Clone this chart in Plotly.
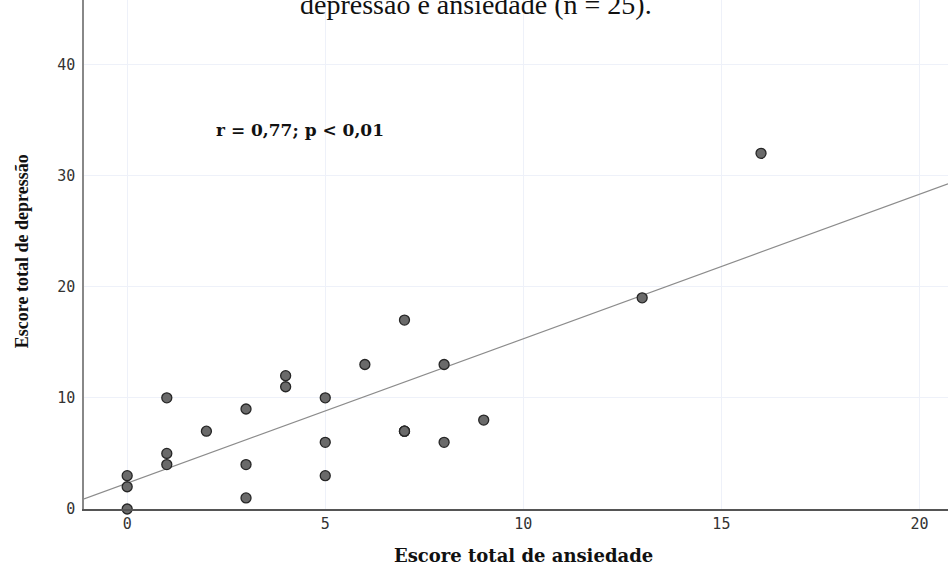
import plotly.graph_objects as go

# Data
ansiedade = [0, 0, 0, 1, 1, 1, 2, 3, 3, 3, 4, 4, 5, 5, 5, 6, 7, 7, 7, 7, 8, 8, 9, 13, 16]
depressao = [0, 2, 3, 4, 5, 10, 7, 1, 4, 9, 11, 12, 3, 6, 10, 13, 7, 7, 7, 17, 6, 13, 8, 19, 32]
fit_intercept = 2.32
fit_slope = 1.30
x_ticks = [0, 5, 10, 15, 20]
y_ticks = [0, 10, 20, 30, 40]
x_range = [-1.09, 20.72]
y_range = [0, 45.8]

fit_x = x_range
fit_y = [fit_intercept + fit_slope * v for v in fit_x]

fig = go.Figure()
fig.add_trace(go.Scatter(x=fit_x, y=fit_y, mode="lines",
                         line=dict(color="#8c8c8c", width=1.2),
                         hoverinfo="skip", showlegend=False, cliponaxis=True))
fig.add_trace(go.Scatter(x=ansiedade, y=depressao, mode="markers",
                         marker=dict(size=10, color="#6a6a6a",
                                     line=dict(color="#262626", width=1.3)),
                         showlegend=False, cliponaxis=False))

tickfont = dict(family="DejaVu Sans Mono", size=15, color="#333333")
fig.update_xaxes(range=x_range, tickvals=x_ticks, showgrid=True, gridcolor="#eef1f9",
                 gridwidth=1, zeroline=False, showline=True, linecolor="#555555",
                 linewidth=1.5, ticks="", tickfont=tickfont)
fig.update_yaxes(range=y_range, tickvals=y_ticks, showgrid=True, gridcolor="#eef1f9",
                 gridwidth=1, zeroline=False, showline=True, linecolor="#888888",
                 linewidth=1.5, ticks="", tickfont=tickfont, ticklabelstandoff=4)

fig.update_layout(
    width=948, height=566,
    margin=dict(l=84, r=0, t=0, b=57),
    plot_bgcolor="white", paper_bgcolor="white",
    annotations=[
        dict(text="depressão e ansiedade (n = 25).", xref="paper", yref="paper",
             x=0.454, y=1, xanchor="center", yanchor="bottom", yshift=-22,
             showarrow=False, font=dict(family="Liberation Serif", size=28, color="#111111")),
        dict(text="<b>r = 0,77; p < 0,01</b>", xref="x", yref="y", x=4.37, y=34.1,
             showarrow=False, font=dict(family="DejaVu Serif", size=17, color="#111111")),
        dict(text="<b>Escore total de ansiedade</b>", xref="x", yref="paper", x=10,
             y=0, yshift=-46, yanchor="middle", showarrow=False,
             font=dict(family="DejaVu Serif", size=18, color="#111111")),
        dict(text="<b>Escore total de depressão</b>", xref="paper", yref="y", x=0,
             xshift=-62, y=23.2, textangle=-90, xanchor="center", showarrow=False,
             font=dict(family="Liberation Serif", size=18, color="#111111")),
    ],
)

fig.write_html("out.html", config={"displayModeBar": False},
               post_script="document.body.style.margin='0';document.body.style.padding='0';")
